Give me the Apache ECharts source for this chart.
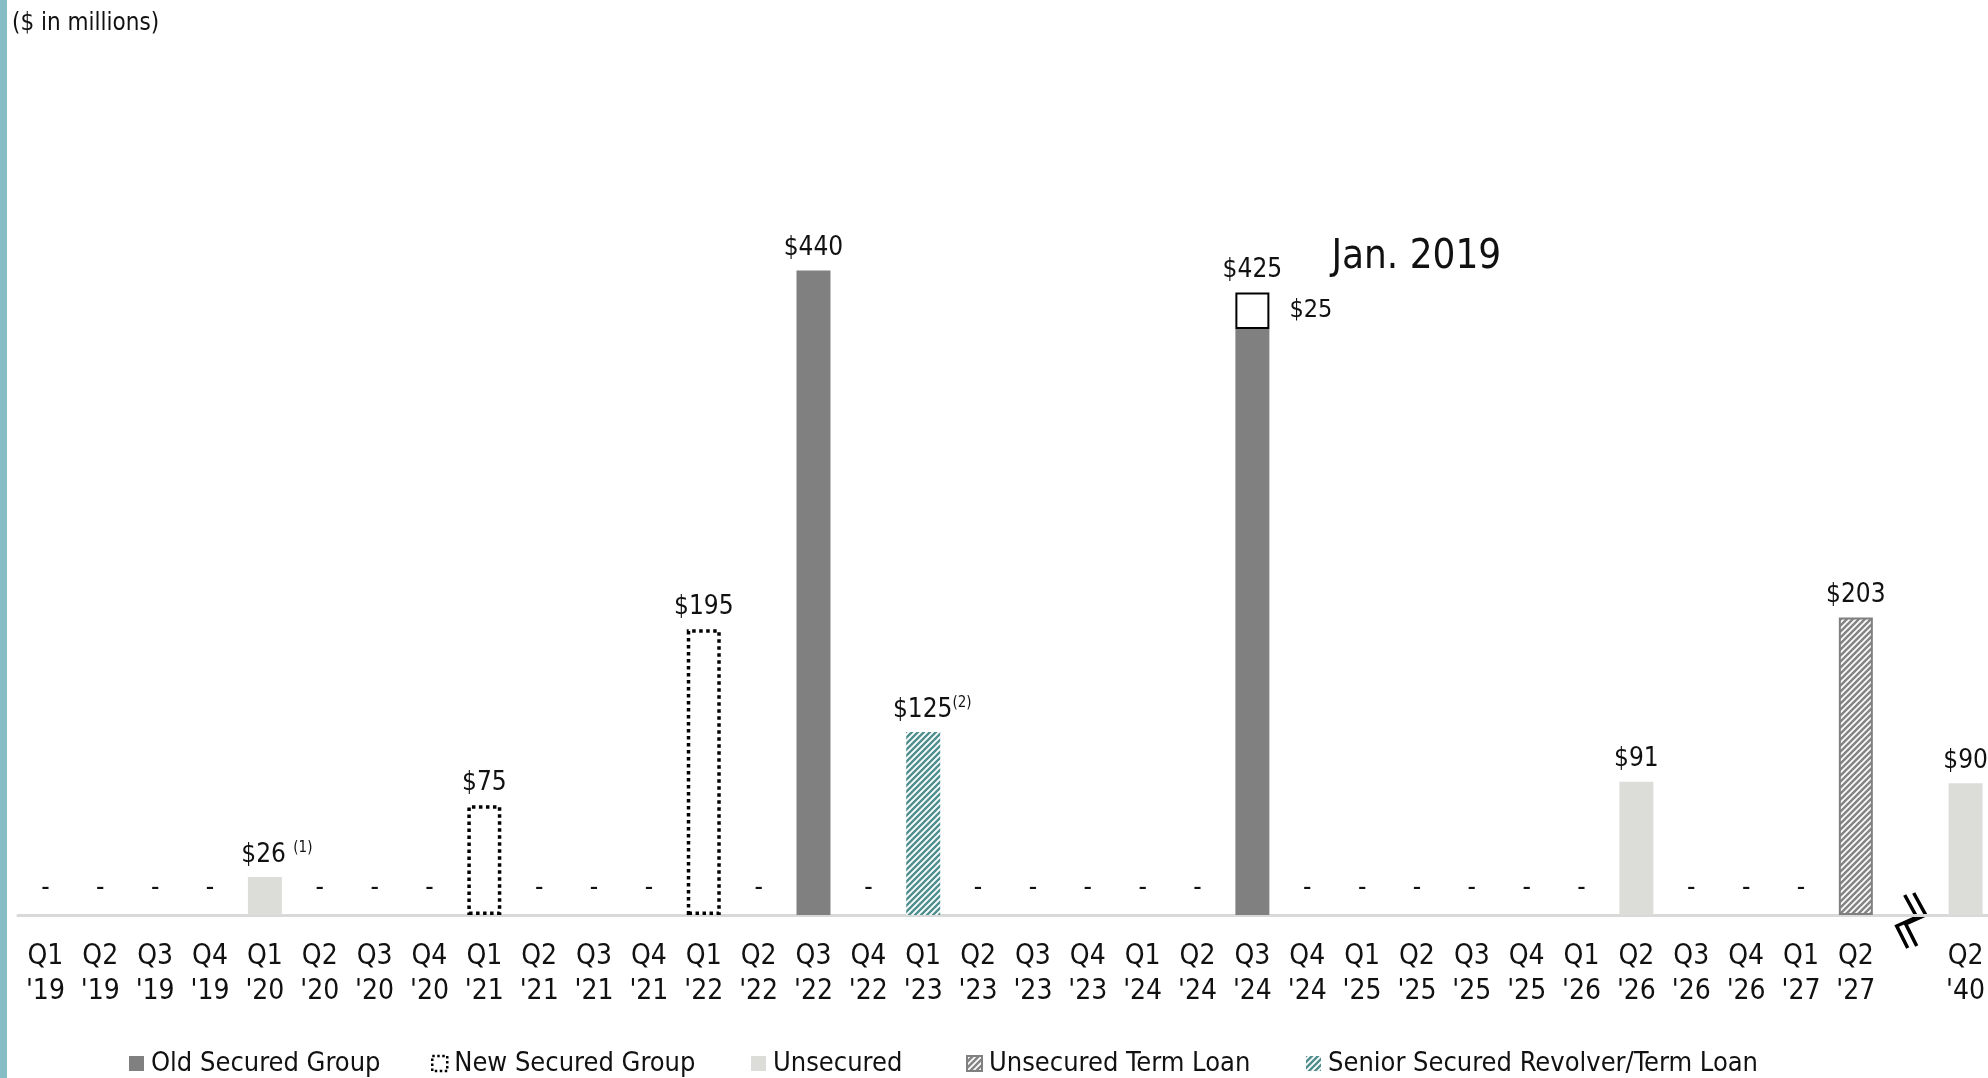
<!DOCTYPE html>
<html>
<head>
<meta charset="utf-8">
<title>Debt maturities</title>
<script src="https://cdn.jsdelivr.net/npm/echarts@6/dist/echarts.min.js"></script>
<style>
  html, body { margin: 0; padding: 0; background: #fff; }
  #chart { width: 1988px; height: 1078px; }
</style>
</head>
<body>
<div id="chart"></div>
<script>
// Quarterly debt maturities, $ in millions. The empty category marks the axis break.
const categories = [
  "Q1\n'19", "Q2\n'19", "Q3\n'19", "Q4\n'19",
  "Q1\n'20", "Q2\n'20", "Q3\n'20", "Q4\n'20",
  "Q1\n'21", "Q2\n'21", "Q3\n'21", "Q4\n'21",
  "Q1\n'22", "Q2\n'22", "Q3\n'22", "Q4\n'22",
  "Q1\n'23", "Q2\n'23", "Q3\n'23", "Q4\n'23",
  "Q1\n'24", "Q2\n'24", "Q3\n'24", "Q4\n'24",
  "Q1\n'25", "Q2\n'25", "Q3\n'25", "Q4\n'25",
  "Q1\n'26", "Q2\n'26", "Q3\n'26", "Q4\n'26",
  "Q1\n'27", "Q2\n'27", "", "Q2\n'40"
];
const _ = null;
//                          '19          '20          '21          '22              '23          '24            '25          '26          '27    gap  '40
const oldSecured        = [_, _, _, _,  _, _, _, _,  _, _, _, _,  _, _, 440, _,   _, _, _, _,  _, _, 400, _,  _, _, _, _,  _, _, _, _,  _, _,   _,  _];
const jan2019Tranche    = [_, _, _, _,  _, _, _, _,  _, _, _, _,  _, _, _, _,     _, _, _, _,  _, _, 25, _,   _, _, _, _,  _, _, _, _,  _, _,   _,  _];
const newSecured        = [_, _, _, _,  _, _, _, _,  75, _, _, _, 195, _, _, _,   _, _, _, _,  _, _, _, _,    _, _, _, _,  _, _, _, _,  _, _,   _,  _];
const unsecured         = [_, _, _, _,  26, _, _, _, _, _, _, _,  _, _, _, _,     _, _, _, _,  _, _, _, _,    _, _, _, _,  _, 91, _, _, _, _,   _,  90];
const unsecuredTermLoan = [_, _, _, _,  _, _, _, _,  _, _, _, _,  _, _, _, _,     _, _, _, _,  _, _, _, _,    _, _, _, _,  _, _, _, _,  _, 203, _,  _];
const seniorSecured     = [_, _, _, _,  _, _, _, _,  _, _, _, _,  _, _, _, _,     125, _, _, _, _, _, _, _,   _, _, _, _,  _, _, _, _,  _, _,   _,  _];
const footnotes = { 4: '(1)', 16: '(2)' };
const legendNames = ['Old Secured Group', 'New Secured Group', 'Unsecured', 'Unsecured Term Loan', 'Senior Secured Revolver/Term Loan'];

const FONT = "'Liberation Sans Narrow', 'DejaVu Sans Condensed', 'Roboto', sans-serif";
const INK = '#111111';
const BREAK_INDEX = categories.indexOf('');

// Total per quarter (0 shows as a dash); the break slot gets no label.
const allSeries = [oldSecured, jan2019Tranche, newSecured, unsecured, unsecuredTermLoan, seniorSecured];
const totalPoints = [];
categories.forEach((c, i) => {
  if (c === '') return;
  totalPoints.push([i, allSeries.reduce((s, arr) => s + (arr[i] || 0), 0)]);
});

// Diagonal hatch tile ("/" stripes)
function hatch(fg, bg, size, lw) {
  const c = document.createElement('canvas');
  c.width = c.height = size;
  const g = c.getContext('2d');
  g.fillStyle = bg;
  g.fillRect(0, 0, size, size);
  g.strokeStyle = fg;
  g.lineWidth = lw;
  g.beginPath();
  for (let k = -1; k <= 1; k++) {
    g.moveTo(k * size - 1, size + 1);
    g.lineTo(k * size + size + 1, -1);
  }
  g.stroke();
  return c;
}
const tealHatch = { image: hatch('#4f8f8f', '#ffffff', 6, 2.4), repeat: 'repeat' };
const grayHatch = { image: hatch('#858585', '#ffffff', 6, 2.6), repeat: 'repeat' };

const barBase = { type: 'bar', stack: 'q', barWidth: 34 };

// One legend block per entry so each sits at its own left edge
const legendLefts = [129, 431, 751, 966, 1306];
const legendStyles = {
  'New Secured Group': { borderWidth: 2.5, borderType: [2.5, 2.5], borderColor: '#000' }
};
const legends = legendNames.map((name, k) => ({
  data: [legendStyles[name] ? { name: name, itemStyle: legendStyles[name] } : { name: name }],
  left: legendLefts[k], top: 1050,
  padding: 0,
  icon: 'rect',
  itemWidth: 15, itemHeight: 15,
  textStyle: { fontFamily: FONT, fontSize: 27, color: INK, padding: [0, 0, 0, 2] }
}));

const chart = echarts.init(document.getElementById('chart'), null, { renderer: 'canvas' });

const option = {
  animation: false,
  backgroundColor: '#ffffff',
  textStyle: { fontFamily: FONT, color: INK },
  grid: { left: 18, width: 1975, top: 36, bottom: 163, containLabel: false, outerBoundsMode: 'none' },
  title: {
    text: '($ in millions)',
    left: 12, top: 12, padding: 0,
    textStyle: { fontFamily: FONT, fontSize: 24, fontWeight: 'normal', color: INK }
  },
  legend: legends,
  xAxis: {
    type: 'category',
    data: categories,
    boundaryGap: true,
    axisTick: { show: false },
    axisLine: { lineStyle: { color: '#d9d9d9', width: 3 } },
    axisLabel: { interval: 0, fontFamily: FONT, fontSize: 28, lineHeight: 35, color: INK, margin: 24 }
  },
  yAxis: {
    type: 'value', min: 0, max: 600,
    show: false,
    splitLine: { show: false }
  },
  series: [
    Object.assign({}, barBase, {
      name: 'Old Secured Group', data: oldSecured,
      itemStyle: { color: '#808080' }
    }),
    Object.assign({}, barBase, {
      name: 'Jan. 2019', data: jan2019Tranche,
      itemStyle: { color: '#ffffff', borderColor: '#000000', borderWidth: 2 },
      label: {
        show: true, position: 'right', distance: 20,
        formatter: p => '$' + p.value,
        fontFamily: FONT, fontSize: 25, color: INK
      }
    }),
    Object.assign({}, barBase, {
      name: 'New Secured Group', data: newSecured,
      itemStyle: { color: '#ffffff', borderColor: '#000000', borderWidth: 3.5, borderType: [3.5, 3.5] }
    }),
    Object.assign({}, barBase, {
      name: 'Unsecured', data: unsecured,
      itemStyle: { color: '#dcdcd8' }
    }),
    Object.assign({}, barBase, {
      name: 'Unsecured Term Loan', data: unsecuredTermLoan,
      itemStyle: { color: grayHatch, borderColor: '#808080', borderWidth: 2 }
    }),
    Object.assign({}, barBase, {
      name: 'Senior Secured Revolver/Term Loan', data: seniorSecured,
      itemStyle: { color: tealHatch }
    }),
    {
      // Value labels: totals above each bar, a dash for empty quarters
      type: 'custom',
      name: 'totals',
      silent: true,
      z: 5,
      data: totalPoints,
      renderItem: (params, api) => {
        const i = api.value(0);
        const v = api.value(1);
        const pt = api.coord([i, v]);
        const note = footnotes[i];
        let text;
        let dx = 0;
        if (v === 0) {
          text = '-';
        } else if (note) {
          text = '$' + v + (note === '(1)' ? ' ' : '') + '{s|' + note + '}';
          dx = note === '(1)' ? 12 : 9;
        } else {
          text = '$' + v;
        }
        return {
          type: 'text',
          x: pt[0] + dx,
          y: pt[1] - (v === 0 ? 27 : 22),
          style: {
            text: text,
            fontFamily: FONT, fontSize: 26, fill: INK,
            align: 'center', verticalAlign: 'middle',
            rich: {
              s: { fontFamily: FONT, fontSize: 15, fill: INK, verticalAlign: 'top', padding: [0, 0, 14, 0] }
            }
          }
        };
      }
    }
  ]
};

chart.setOption(option);

// Annotations placed from the axis scales
const q324 = categories.indexOf("Q3\n'24");
const q324Total = oldSecured[q324] + jan2019Tranche[q324];
const boxLabelPt = chart.convertToPixel({ xAxisIndex: 0, yAxisIndex: 0 }, [q324, q324Total + 25]);
const breakX = chart.convertToPixel({ xAxisIndex: 0 }, BREAK_INDEX);
const baseY = chart.convertToPixel({ yAxisIndex: 0 }, 0);

chart.setOption({
  graphic: [
    {
      type: 'rect', left: 0, top: 0, z: 10,
      shape: { x: 0, y: 0, width: 7, height: 1078 },
      style: { fill: '#86bcc4' }
    },
    {
      type: 'text', z: 10,
      x: boxLabelPt[0] + 79, y: boxLabelPt[1] + 2,
      style: {
        text: 'Jan. 2019', fontFamily: FONT, fontSize: 40, fill: INK,
        verticalAlign: 'middle', align: 'left'
      }
    },
    {
      type: 'group', x: breakX, y: baseY, z: 10,
      children: [
        {
          type: 'rect', shape: { x: -10, y: -6, width: 22, height: 12 },
          style: { fill: '#ffffff' }
        },
        {
          type: 'polyline',
          shape: { points: [[-6, -20], [6, 2], [-14, 11], [-3, 33]] },
          style: { stroke: '#000000', lineWidth: 3.5, fill: null }
        },
        {
          type: 'polyline',
          shape: { points: [[3, -22], [15, 0], [-5, 9], [6, 31]] },
          style: { stroke: '#000000', lineWidth: 3.5, fill: null }
        }
      ]
    }
  ]
});
</script>
</body>
</html>
